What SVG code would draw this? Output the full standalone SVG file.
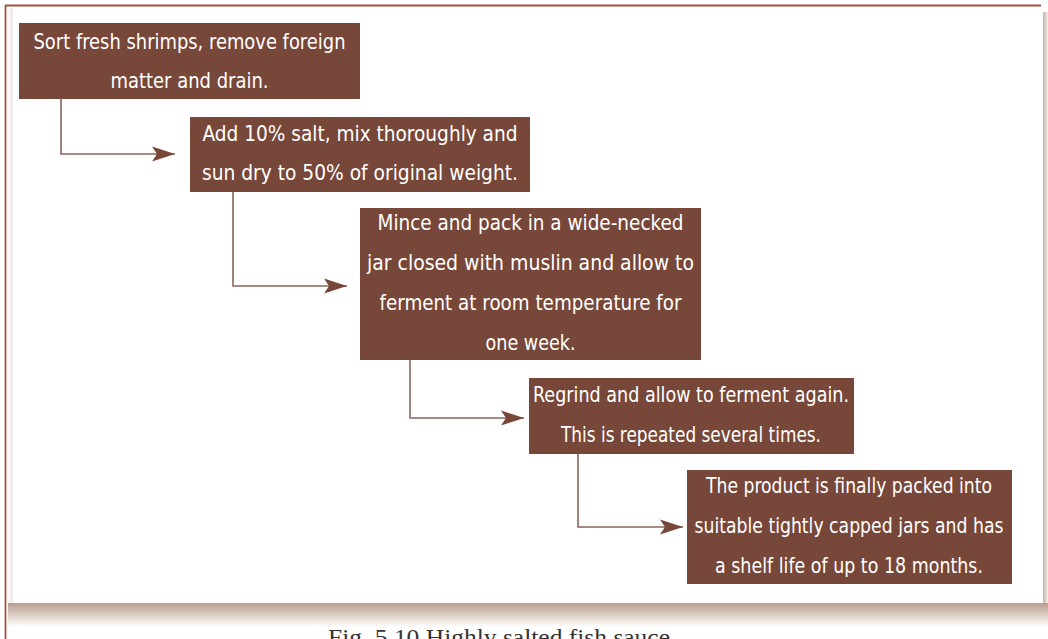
<svg xmlns="http://www.w3.org/2000/svg" width="1048" height="639" viewBox="0 0 1048 639">
<style>
.box{fill:#774739}
.t{font-family:"Liberation Sans Narrow","DejaVu Sans Condensed","Liberation Sans",sans-serif;font-size:22px;fill:#ffffff;text-anchor:middle}
.c{fill:none;stroke:#86675c;stroke-width:1.6}
.cap{font-family:"Liberation Serif",serif;font-size:23px;fill:#333333}
</style>
<defs>
<marker id="ah" markerWidth="24" markerHeight="16" refX="23" refY="8" orient="auto" markerUnits="userSpaceOnUse">
<path d="M0,0.5 L23,8 L0,15.5 L5,8 Z" fill="#774739"/>
</marker>
<linearGradient id="shb" x1="0" y1="0" x2="0" y2="1">
<stop offset="0" stop-color="#b79e8f"/>
<stop offset="0.5" stop-color="#dccdc4"/>
<stop offset="1" stop-color="#ffffff"/>
</linearGradient>
<linearGradient id="shr" x1="0" y1="0" x2="1" y2="0">
<stop offset="0" stop-color="#c6b2a6"/>
<stop offset="1" stop-color="#f4eeea"/>
</linearGradient>
<linearGradient id="shl" x1="0" y1="0" x2="1" y2="0">
<stop offset="0" stop-color="#ffffff"/>
<stop offset="1" stop-color="#ebe8e6"/>
</linearGradient>
</defs>
<rect width="1048" height="639" fill="#ffffff"/>
<g id="frame">
<rect x="1043" y="12" width="5" height="594" fill="url(#shr)"/>
<rect x="8" y="603" width="1040" height="24" fill="url(#shb)"/>
<rect x="7" y="8" width="6" height="595" fill="url(#shl)"/>
<rect x="13" y="8" width="1030" height="595" fill="#ffffff"/>
<line x1="5" y1="5.5" x2="1041" y2="5.5" stroke="#a2513b" stroke-width="1.8"/>
<line x1="5.5" y1="5" x2="5.5" y2="639" stroke="#a2513b" stroke-width="1.8"/>
</g>
<g id="connectors">
<path class="c" d="M61,99 V154 H175" marker-end="url(#ah)"/>
<path class="c" d="M233,192 V286 H347" marker-end="url(#ah)"/>
<path class="c" d="M410,360 V418 H524" marker-end="url(#ah)"/>
<path class="c" d="M578,454 V527 H683" marker-end="url(#ah)"/>
</g>
<g id="n1">
<rect class="box" x="19" y="23" width="341" height="76"/>
<text class="t" x="189.5" y="49" textLength="312" lengthAdjust="spacingAndGlyphs">Sort fresh shrimps, remove foreign</text>
<text class="t" x="189.5" y="88" textLength="158" lengthAdjust="spacingAndGlyphs">matter and drain.</text>
</g>
<g id="n2">
<rect class="box" x="190" y="117" width="340" height="75"/>
<text class="t" x="360" y="141" textLength="315" lengthAdjust="spacingAndGlyphs">Add 10% salt, mix thoroughly and</text>
<text class="t" x="360" y="180" textLength="316" lengthAdjust="spacingAndGlyphs">sun dry to 50% of original weight.</text>
</g>
<g id="n3">
<rect class="box" x="360" y="208" width="341" height="152"/>
<text class="t" x="530.5" y="230" textLength="306" lengthAdjust="spacingAndGlyphs">Mince and pack in a wide-necked</text>
<text class="t" x="530.5" y="270" textLength="327" lengthAdjust="spacingAndGlyphs">jar closed with muslin and allow to</text>
<text class="t" x="530.5" y="310" textLength="302" lengthAdjust="spacingAndGlyphs">ferment at room temperature for</text>
<text class="t" x="530.5" y="350" textLength="90" lengthAdjust="spacingAndGlyphs">one week.</text>
</g>
<g id="n4">
<rect class="box" x="529" y="378" width="325" height="76"/>
<text class="t" x="691" y="402" textLength="316" lengthAdjust="spacingAndGlyphs">Regrind and allow to ferment again.</text>
<text class="t" x="691" y="442" textLength="260" lengthAdjust="spacingAndGlyphs">This is repeated several times.</text>
</g>
<g id="n5">
<rect class="box" x="687" y="470" width="325" height="114"/>
<text class="t" x="849" y="493" textLength="286" lengthAdjust="spacingAndGlyphs">The product is finally packed into</text>
<text class="t" x="849" y="533" textLength="309" lengthAdjust="spacingAndGlyphs">suitable tightly capped jars and has</text>
<text class="t" x="849" y="573" textLength="268" lengthAdjust="spacingAndGlyphs">a shelf life of up to 18 months.</text>
</g>
<text class="cap" x="328" y="645" textLength="342" lengthAdjust="spacingAndGlyphs">Fig. 5.10 Highly salted fish sauce</text>
</svg>
